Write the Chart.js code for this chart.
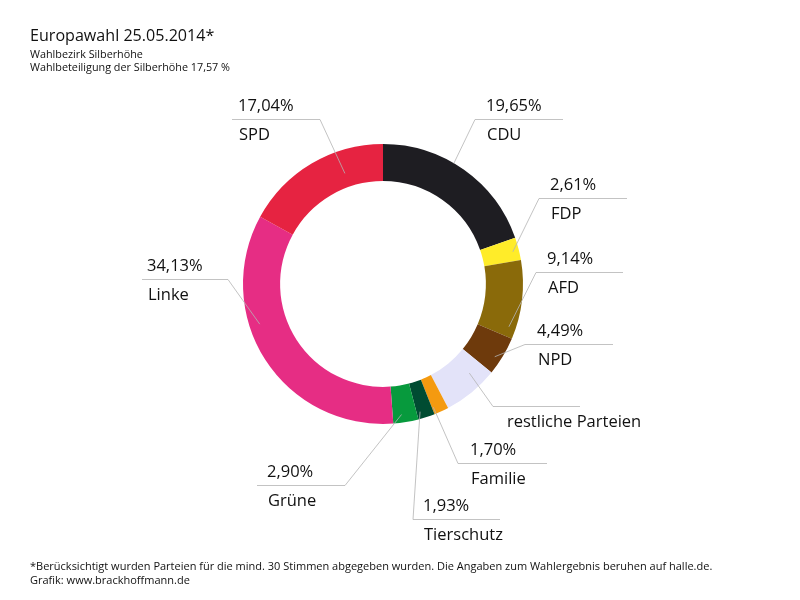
<!DOCTYPE html>
<html lang="de">
<head>
<meta charset="utf-8">
<title>Europawahl 25.05.2014 – Wahlbezirk Silberhöhe</title>
<script src="https://cdn.jsdelivr.net/npm/chart.js@4.4.1/dist/chart.umd.min.js"></script>
<style>
    html, body { margin: 0; padding: 0; background: #fff; }
    #wrap { position: relative; width: 800px; height: 600px; font-family: "Open Sans", sans-serif; color: #111; }
    #chart { position: absolute; left: 0; top: 0; }
    .txt { position: absolute; white-space: nowrap; }
    #title { left: 30px; top: 24px; font-size: 16.1px; }
    #sub1 { left: 30px; top: 46px; font-size: 10.8px; }
    #sub2 { left: 30px; top: 59px; font-size: 10.8px; }
    #note1 { left: 30px; top: 558px; font-size: 11px; }
    #note2 { left: 30px; top: 572px; font-size: 11px; }
</style>
</head>
<body>
<div id="wrap">
    <canvas id="chart" width="800" height="600"></canvas>
    <div class="txt" id="title">Europawahl 25.05.2014*</div>
    <div class="txt" id="sub1">Wahlbezirk Silberhöhe</div>
    <div class="txt" id="sub2">Wahlbeteiligung der Silberhöhe 17,57 %</div>
    <div class="txt" id="note1">*Berücksichtigt wurden Parteien für die mind. 30 Stimmen abgegeben wurden. Die Angaben zum Wahlergebnis beruhen auf halle.de.</div>
    <div class="txt" id="note2">Grafik: www.brackhoffmann.de</div>
</div>
<script>
// Daten (Prozent, im Uhrzeigersinn ab oben)
const parteien = ['CDU', 'FDP', 'AFD', 'NPD', 'restliche Parteien', 'Familie', 'Tierschutz', 'Grüne', 'Linke', 'SPD'];
const prozente = [19.65, 2.61, 9.14, 4.49, 6.41, 1.70, 1.93, 2.90, 34.13, 17.04];
const zeigeProzent = [true, true, true, true, false, true, true, true, true, true];
const farben = ['#1e1d22', '#ffec29', '#8a6a0a', '#6e3a0c', '#e3e3f9', '#f49a10', '#004c32', '#079a3d', '#e62d84', '#e62341'];

// Beschriftung: Ansatzpunkt im Segment (Anteil Winkel / Anteil Ringbreite), Knick, Linienende, Textanfang
const ansatzT = [0.43, 0.57, 0.87, 0.62, 0.29, 0.9, 0.78, 0.63, 0.62, 0.69];
const ansatzR = [1.0, 0.83, 0.81, 0.82, 0.57, 0.81, 0.81, 0.78, 0.72, 0.38];
const knickX = [475, 539, 536, 525, 493, 458, 413, 345, 228, 320];
const knickY = [119, 198, 272, 344, 406, 463, 519, 485, 279, 119];
const endeX  = [563, 627, 623, 613, 580, 547, 500, 257, 142, 232];
const textX  = [486, 550, 547, 537, 506, 470, 423, 267, 147, 238];

const leaderPlugin = {
    id: 'leader',
    afterDatasetsDraw(chart) {
        const c = chart.ctx;
        const arcs = chart.getDatasetMeta(0).data;
        c.save();
        arcs.forEach((arc, i) => {
            const p = arc.getProps(['x', 'y', 'startAngle', 'endAngle', 'innerRadius', 'outerRadius'], true);
            const a = p.startAngle + (p.endAngle - p.startAngle) * ansatzT[i];
            const r = p.innerRadius + (p.outerRadius - p.innerRadius) * ansatzR[i];
            const sx = p.x + Math.cos(a) * r;
            const sy = p.y + Math.sin(a) * r;

            c.strokeStyle = '#b4b4b4';
            c.lineWidth = 0.8;
            c.beginPath();
            c.moveTo(sx, sy);
            c.lineTo(knickX[i], knickY[i] + 0.5);
            c.lineTo(endeX[i], knickY[i] + 0.5);
            c.stroke();

            c.fillStyle = '#111';
            c.font = '16.5px "Open Sans"';
            c.textAlign = 'left';
            c.textBaseline = 'alphabetic';
            if (zeigeProzent[i]) {
                c.fillText(prozente[i].toFixed(2).replace('.', ',') + '%', textX[i], knickY[i] - 8);
            }
            c.fillText(parteien[i], textX[i] + 1, knickY[i] + 21);
        });
        c.restore();
    }
};

new Chart(document.getElementById('chart'), {
    type: 'doughnut',
    data: {
        labels: parteien,
        datasets: [{
            data: prozente,
            backgroundColor: farben,
            borderWidth: 0,
            hoverOffset: 0
        }]
    },
    options: {
        responsive: false,
        animation: false,
        cutout: '73.5%',
        layout: { padding: { left: 243, right: 277, top: 144, bottom: 176 } },
        plugins: {
            legend: { display: false },
            tooltip: { enabled: false }
        },
        events: []
    },
    plugins: [leaderPlugin]
});
</script>
</body>
</html>
